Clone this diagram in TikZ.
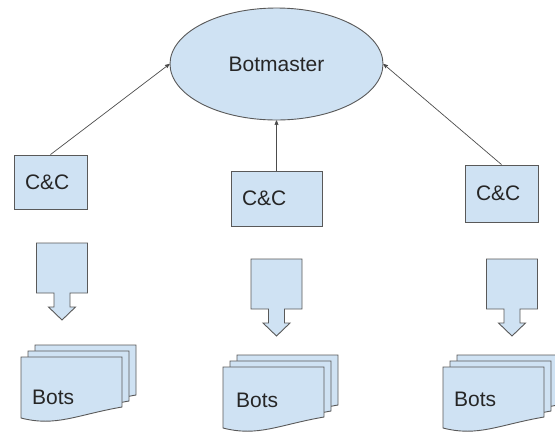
\documentclass[tikz,border=0pt]{standalone}
\usepackage{fontspec}
\setmainfont{Liberation Sans}
\usetikzlibrary{shapes.geometric, arrows}
\definecolor{paleblue}{HTML}{CFE2F3}
\definecolor{edge}{HTML}{595959}
\tikzset{
	>=stealth',
	every node/.style={font=\fontsize{21}{24}\selectfont, text=black!85},
	master/.style={ellipse, draw=edge, fill=paleblue, line width=0.9pt,
		minimum width=213pt, minimum height=112pt},
	cc/.style={rectangle, draw=edge, fill=paleblue, line width=0.9pt,
		inner xsep=11pt, inner ysep=0pt, align=left},
	link/.style={->, draw=black!70, line width=0.7pt},
	page/.style={draw=edge, fill=paleblue, line width=0.9pt},
	% block arrow pointing down, origin at top middle
	pics/push/.style={code={
		\draw[page] (-25.5,0) -- (25.5,0) -- (25.5,50) -- (8,50) -- (8,64)
			-- (13.5,64) -- (0,77) -- (-13.5,64) -- (-8,64) -- (-8,50)
			-- (-25.5,50) -- cycle;
	}},
	% three stacked pages with a wavy bottom, origin at top left of the front one
	pics/stack/.style={code={
		\foreach \dx/\dy in {14/-12, 7/-6, 0/0}
			\draw[page, shift={(\dx,\dy)}] (0,0) -- (101,0) -- (101,50)
				.. controls (55,58) and (35,70) .. (0,61) -- cycle;
	}}}

\begin{document}
\begin{tikzpicture}[x=1pt, y=-1pt]
	\useasboundingbox (0,0) rectangle (555,432);

	\node[master] (bm) at (276.5,64) {Botmaster};

	\node[cc, text width=51pt, minimum height=54pt] (cc1) at (50.5,182) {C\&C};
	\node[cc, text width=69pt, minimum height=55pt] (cc2) at (276.5,198.5) {C\&C};
	\node[cc, text width=51pt, minimum height=57pt] (cc3) at (501.5,193.5) {C\&C};

	\draw[link] (cc1.north) -- (bm.west);
	\draw[link] (cc2.north) -- (bm.south);
	\draw[link] (cc3.north) -- (bm.east);

	\pic at (62,243) {push};
	\pic at (276.5,259) {push};
	\pic at (512,259) {push};

	\pic at (21,357) {stack};
	\pic at (223,367) {stack};
	\pic at (443,367) {stack};

	\node[anchor=west, inner sep=0pt] (bots1) at (32,397) {Bots};
	\node[anchor=west, inner sep=0pt] (bots2) at (236,400) {Bots};
	\node[anchor=west, inner sep=0pt] (bots3) at (454,399) {Bots};

\end{tikzpicture}
\end{document}
